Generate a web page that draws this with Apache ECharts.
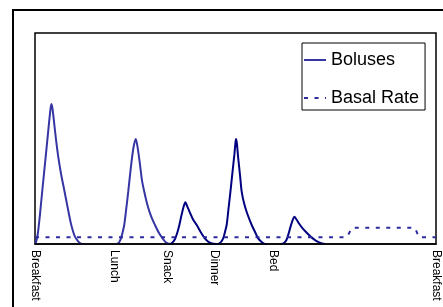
<!DOCTYPE html>
<html>
<head>
<meta charset="utf-8">
<script src="https://cdn.jsdelivr.net/npm/echarts@6/dist/echarts.min.js"></script>
<style>
  html, body { margin: 0; padding: 0; background: #fff; }
  #chart { width: 443px; height: 307px; }
</style>
</head>
<body>
<div id="chart"></div>
<script>
// x = hours after breakfast, y = relative insulin level (0..100)
var tickNames = ['Breakfast', 'Lunch', 'Snack', 'Dinner', 'Bed', 'Breakfast'];
var tickHours = [0, 4.73, 7.9, 10.74, 14.25, 24];

// bolus curve, first part (breakfast + lunch)
var bolusEarly = [
    [0, 0], [0.06, 0.9], [0.14, 3.5], [0.21, 7.6], [0.30, 14.2], [0.44, 25.6],
    [0.64, 41.4], [0.81, 55.0], [0.92, 63.5], [0.98, 66.4], [1.04, 64.5],
    [1.14, 57.8], [1.26, 49.3], [1.39, 41.4], [1.56, 33.2], [1.75, 25.6],
    [1.95, 17.5], [2.14, 10.0], [2.27, 6.2], [2.39, 3.5], [2.57, 1.4],
    [2.75, 0.2], [2.93, 0],
    '-',
    [4.89, 0], [5.03, 0.7], [5.15, 2.8], [5.25, 5.7], [5.34, 9.0], [5.46, 16.6],
    [5.58, 24.8], [5.74, 36.5], [5.89, 45.5], [6.03, 49.8], [6.13, 46.4],
    [6.28, 37.9], [6.40, 30.3], [6.54, 24.8], [6.73, 18.5], [6.94, 13.3],
    [7.18, 9.0], [7.42, 5.2], [7.66, 2.4], [7.84, 0.7], [8.02, 0]
];
// bolus curve, second part (snack, dinner, bed)
var bolusLate = [
    [8.02, 0], [8.20, 0.5], [8.38, 2.4], [8.53, 5.7], [8.64, 9.0], [8.77, 13.7],
    [8.89, 17.5], [9.0, 19.8], [9.13, 17.5], [9.28, 14.7], [9.46, 11.6],
    [9.68, 9.0], [9.88, 6.2], [10.11, 3.3], [10.35, 1.2], [10.59, 0.2], [10.83, 0],
    [11.07, 0.5], [11.25, 2.4], [11.37, 5.7], [11.47, 9.0], [11.58, 16.6],
    [11.70, 25.1], [11.82, 34.1], [11.93, 42.2], [11.99, 47.4], [12.03, 49.8],
    [12.08, 47.9], [12.15, 41.7], [12.27, 32.7], [12.37, 24.8], [12.51, 19.4],
    [12.69, 14.7], [12.97, 9.0], [13.17, 5.7], [13.35, 2.8], [13.53, 1.2],
    [13.71, 0.2], [13.89, 0],
    '-',
    [14.72, 0], [14.90, 0.5], [15.05, 1.9], [15.17, 4.7], [15.29, 8.1],
    [15.41, 11.1], [15.52, 12.9], [15.65, 11.6], [15.80, 9.7], [15.98, 7.8],
    [16.22, 5.7], [16.46, 3.8], [16.70, 2.2], [16.94, 1.0], [17.18, 0.3], [17.36, 0]
];
var basal = [
    [0, 3.2], [18.67, 3.2], [18.97, 7.7], [22.74, 7.7], [22.98, 3.2], [24, 3.2]
];

var myChart = echarts.init(document.getElementById('chart'));

function tickName(v) {
    for (var i = 0; i < tickHours.length; i++) {
        if (Math.abs(tickHours[i] - v) < 0.01) {
            return tickNames[i];
        }
    }
    return '';
}

option = {
    animation: false,
    textStyle: {fontFamily: 'Liberation Sans, Arial, sans-serif'},
    graphic: [{
        type: 'rect',
        shape: {x: 13, y: 10, width: 600, height: 500},
        style: {fill: null, stroke: '#000', lineWidth: 2}
    }],
    grid: {
        left: 35, top: 33, right: 7, bottom: 63,
        show: true,
        borderColor: '#000',
        borderWidth: 1.5
    },
    legend: {
        data: ['Boluses', 'Basal Rate'],
        orient: 'vertical',
        left: 302,
        top: 43,
        padding: [8, 6, 3, 1],
        itemGap: 20,
        itemWidth: 22,
        itemHeight: 14,
        borderColor: '#000',
        borderWidth: 1,
        backgroundColor: '#fff',
        itemStyle: {opacity: 0},
        textStyle: {fontSize: 18, color: '#000', fontFamily: 'Liberation Sans, Arial, sans-serif'}
    },
    xAxis: {
        type: 'value',
        min: 0,
        max: 24,
        z: 10,
        splitLine: {show: false},
        axisLine: {show: true, lineStyle: {color: '#000', width: 1.5}},
        axisTick: {show: false},
        axisLabel: {
            customValues: tickHours,
            formatter: tickName,
            rotate: -90,
            margin: 6,
            fontSize: 12,
            color: '#000',
            showMinLabel: true,
            showMaxLabel: true
        }
    },
    yAxis: {
        type: 'value',
        min: 0,
        max: 100,
        axisLine: {show: false},
        axisTick: {show: false},
        axisLabel: {show: false},
        splitLine: {show: false}
    },
    series: [
        {
            name: 'Boluses',
            type: 'line',
            data: bolusEarly,
            smooth: 0.3,
            showSymbol: false,
            symbol: 'none',
            color: '#3535a3',
            lineStyle: {width: 2, color: '#3535a3'}
        },
        {
            name: 'Boluses (late)',
            type: 'line',
            data: bolusLate,
            smooth: 0.3,
            showSymbol: false,
            symbol: 'none',
            color: '#000080',
            lineStyle: {width: 2, color: '#000080'}
        },
        {
            name: 'Basal Rate',
            type: 'line',
            data: basal,
            showSymbol: false,
            symbol: 'none',
            color: '#2c2ca0',
            lineStyle: {width: 2, color: '#2c2ca0', type: [4, 6.5]}
        }
    ]
};

myChart.setOption(option);
</script>
</body>
</html>
